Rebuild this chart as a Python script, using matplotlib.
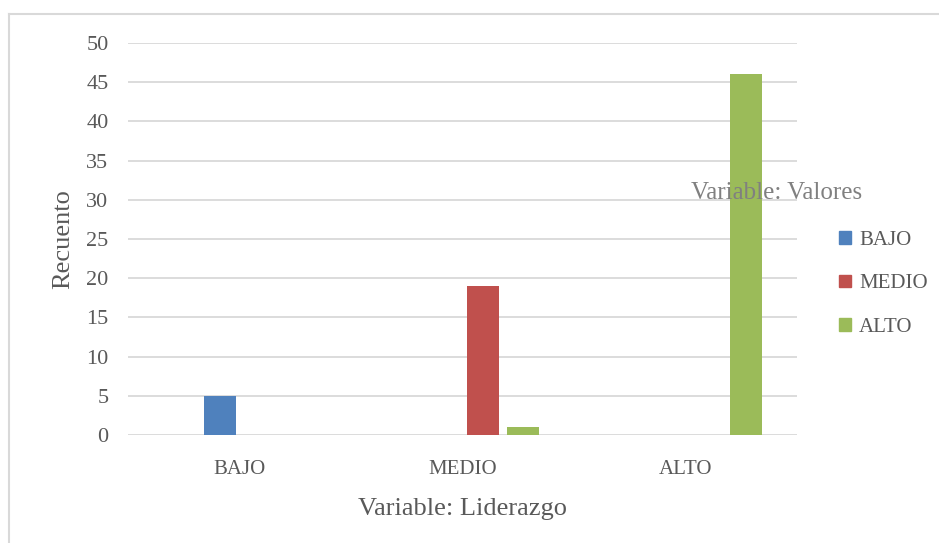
import matplotlib
matplotlib.use("Agg")
import matplotlib.pyplot as plt
from matplotlib.lines import Line2D
import numpy as np

categories = ["BAJO", "MEDIO", "ALTO"]
series_names = ["BAJO", "MEDIO", "ALTO"]
bajo_vals = [5, 0, 0]
medio_vals = [0, 19, 0]
alto_vals = [0, 1, 46]
legend_title = "Variable: Valores"
colors = ["#4F81BD", "#C0504D", "#9BBB59"]

plt.rcParams['font.family'] = ['Liberation Serif', 'DejaVu Serif']
txt = "#595959"

W, H = 939, 543
fig = plt.figure(figsize=(W / 100, H / 100), dpi=100)
ax = fig.add_axes([128 / W, 1 - 435 / H, (797 - 128) / W, (435 - 43) / H])

x = np.arange(len(categories))
step = 40 / 223
width = 32 / 223
n_slots = 4  # first slot belongs to the empty "Variable: Valores" series
all_vals = [bajo_vals, medio_vals, alto_vals]
for i, (vals, name, c) in enumerate(zip(all_vals, series_names, colors)):
    slot = i + 1
    off = (slot - (n_slots - 1) / 2) * step
    v = np.array(vals, dtype=float)
    mask = v > 0
    ax.bar(x[mask] + off, v[mask], width=width, color=c, label=name, zorder=3)

ax.set_xlim(-0.5, 2.5)
ax.set_ylim(0, 50)
ax.set_yticks(np.arange(0, 51, 5))
ax.set_xticks(x)
ax.set_xticklabels(categories)
ax.grid(axis='y', color='#D9D9D9', linewidth=1.3, zorder=0)
for s in ax.spines.values():
    s.set_visible(False)
ax.tick_params(axis='y', length=0, labelsize=16, colors=txt, pad=14)
ax.tick_params(axis='x', length=0, labelsize=15, colors=txt, pad=18)
ax.set_xlabel("Variable: Liderazgo", fontsize=19, color=txt, labelpad=14)
ax.set_ylabel("Recuento", fontsize=19, color=txt, labelpad=9)

handles = [plt.Rectangle((0, 0), 1, 1, color=c) for c in colors]
leg = fig.legend(handles, series_names, loc='upper left',
                 bbox_to_anchor=(820 / W, 1 - 212 / H), frameon=False,
                 fontsize=15, labelcolor=txt, handlelength=0.58, handleheight=0.58,
                 handletextpad=0.4, labelspacing=1.18)
fig.text(777 / W, 1 - 193 / H, legend_title, ha='center', va='center',
         fontsize=18, color='#808080')

# outer chart border (left and top visible)
fig.add_artist(Line2D([9 / W, 9 / W], [0, 1 - 13.5 / H], transform=fig.transFigure,
                      color='#D9D9D9', linewidth=1.5))
fig.add_artist(Line2D([9 / W, 1], [1 - 13.5 / H, 1 - 13.5 / H], transform=fig.transFigure,
                      color='#D9D9D9', linewidth=1.5))

fig.savefig("out.png", dpi=100)
